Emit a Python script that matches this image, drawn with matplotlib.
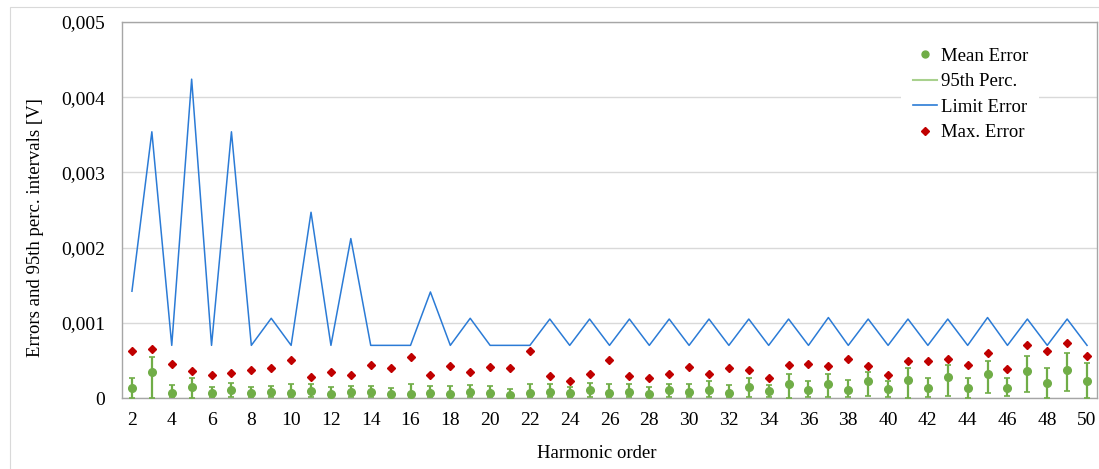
import matplotlib.pyplot as plt
from matplotlib.ticker import FuncFormatter, MultipleLocator
from matplotlib.lines import Line2D
from matplotlib.patches import Rectangle

plt.rcParams['font.family'] = ['Liberation Serif', 'DejaVu Serif']

harmonics = list(range(2, 51))

limit_error = [0.00142, 0.00354, 0.0007, 0.00424, 0.0007, 0.00354, 0.0007, 0.00106,
               0.0007, 0.00247, 0.0007, 0.00212, 0.0007, 0.0007, 0.0007, 0.00141,
               0.0007, 0.00106, 0.0007, 0.0007, 0.0007, 0.00105, 0.0007, 0.00105,
               0.0007, 0.00105, 0.0007, 0.00105, 0.0007, 0.00105, 0.0007, 0.00105,
               0.0007, 0.00105, 0.0007, 0.00107, 0.0007, 0.00105, 0.0007, 0.00105,
               0.0007, 0.00105, 0.0007, 0.00107, 0.0007, 0.00105, 0.0007, 0.00105,
               0.0007]

max_error = [0.00062, 0.00065, 0.00045, 0.00036, 0.00031, 0.00033, 0.00037, 0.00040,
             0.00051, 0.00028, 0.00034, 0.00031, 0.00044, 0.00040, 0.00055, 0.00030,
             0.00042, 0.00035, 0.00041, 0.00040, 0.00062, 0.00029, 0.00023, 0.00032,
             0.00050, 0.00029, 0.00026, 0.00032, 0.00041, 0.00032, 0.00040, 0.00037,
             0.00027, 0.00044, 0.00045, 0.00042, 0.00052, 0.00043, 0.00030, 0.00049,
             0.00049, 0.00052, 0.00044, 0.00060, 0.00039, 0.00070, 0.00063, 0.00073,
             0.00056]

mean_error = [0.00013, 0.00035, 0.00007, 0.00014, 0.00006, 0.00010, 0.00007, 0.00008,
              0.00006, 0.00009, 0.00005, 0.00008, 0.00008, 0.00005, 0.00005, 0.00007,
              0.00005, 0.00008, 0.00006, 0.00004, 0.00007, 0.00008, 0.00006, 0.00010,
              0.00006, 0.00008, 0.00005, 0.00010, 0.00008, 0.00011, 0.00006, 0.00014,
              0.00009, 0.00018, 0.00011, 0.00019, 0.00010, 0.00022, 0.00012, 0.00024,
              0.00013, 0.00028, 0.00013, 0.00032, 0.00013, 0.00036, 0.00020, 0.00037,
              0.00022]

# 95th percentile interval bounds
upper_95 = [0.00026, 0.00054, 0.00017, 0.00027, 0.00014, 0.00020, 0.00015, 0.00016,
            0.00018, 0.00018, 0.00014, 0.00016, 0.00016, 0.00013, 0.00018, 0.00016,
            0.00016, 0.00017, 0.00016, 0.00012, 0.00019, 0.00019, 0.00014, 0.00020,
            0.00018, 0.00019, 0.00014, 0.00019, 0.00018, 0.00022, 0.00017, 0.00026,
            0.00017, 0.00032, 0.00023, 0.00032, 0.00024, 0.00034, 0.00023, 0.00040,
            0.00026, 0.00044, 0.00026, 0.00049, 0.00026, 0.00056, 0.00040, 0.00060,
            0.00046]
lower_95 = [0.0, 0.0, 0.00001, 0.0, 0.00001, 0.00001, 0.00001, 0.00001,
            0.00001, 0.00001, 0.00001, 0.00001, 0.00001, 0.00001, 0.00001, 0.00001,
            0.00001, 0.00001, 0.00001, 0.00001, 0.00001, 0.00001, 0.00001, 0.00001,
            0.00001, 0.00001, 0.00001, 0.00001, 0.00001, 0.00001, 0.00001, 0.00001,
            0.00001, 0.0, 0.00001, 0.00001, 0.00001, 0.00002, 0.00001, 0.0,
            0.00001, 0.00003, 0.0, 0.00007, 0.00002, 0.00008, 0.0, 0.00009,
            0.0]

green = '#70AD47'
blue = '#2B7BD6'
red = '#C00000'
spine_gray = '#A6A6A6'
fs = 13.5

fig = plt.figure(figsize=(10.99, 4.69), dpi=100)
ax = fig.add_axes([122 / 1099, 71 / 469, 975 / 1099, 376 / 469])

# outer chart frame
fig.patches.append(Rectangle((10 / 1099, -0.05), 1.2, (462 / 469) + 0.05,
                             transform=fig.transFigure, fill=False,
                             edgecolor='#D9D9D9', lw=0.8, zorder=0))

ax.plot(harmonics, limit_error, color=blue, lw=1.1, zorder=3)

yerr = [[m - lo for m, lo in zip(mean_error, lower_95)],
        [up - m for m, up in zip(mean_error, upper_95)]]
ax.errorbar(harmonics, mean_error, yerr=yerr, fmt='o', color=green, ms=5.5,
            ecolor=green, elinewidth=1.6, capsize=2.5, capthick=1.2, zorder=4)

ax.plot(harmonics, max_error, 'D', color=red, ms=4.2, zorder=5)

ax.set_xlim(1.5, 50.5)
ax.set_ylim(0, 0.005)
ax.set_xticks(range(2, 51, 2))
ax.yaxis.set_major_locator(MultipleLocator(0.001))
ax.yaxis.set_major_formatter(FuncFormatter(
    lambda v, _: '0' if abs(v) < 1e-12 else f'{v:.3f}'.replace('.', ',')))
ax.tick_params(axis='both', length=0, labelsize=fs + 0.5, colors='#000000')
ax.tick_params(axis='x', pad=10)
ax.tick_params(axis='y', pad=12)

ax.grid(axis='y', color='#D9D9D9', lw=1.0, zorder=0)
ax.set_axisbelow(True)
for side in ['left', 'bottom', 'top', 'right']:
    ax.spines[side].set_color(spine_gray)
    ax.spines[side].set_linewidth(1.0)

ax.set_xlabel('Harmonic order', fontsize=fs)
ax.set_ylabel('Errors and 95th perc. intervals [V]', fontsize=fs)
ax.xaxis.set_label_coords(0.487, -0.125)
ax.yaxis.set_label_coords(-0.080, 0.452)

handles = [
    Line2D([], [], marker='o', color=green, ls='none', ms=5),
    Line2D([], [], color='#A9D18E', lw=1.5),
    Line2D([], [], color=blue, lw=1.2),
    Line2D([], [], marker='D', color=red, ls='none', ms=4),
]
labels = ['Mean Error', '95th Perc.', 'Limit Error', 'Max. Error']
leg = ax.legend(handles, labels, loc='upper left',
                bbox_to_anchor=(892 / 1099, 442 / 469), bbox_transform=fig.transFigure,
                frameon=True, facecolor='white', edgecolor='none', framealpha=1,
                fontsize=fs, handlelength=1.3, handletextpad=0.2,
                labelspacing=0.45, borderpad=0.6, fancybox=False)

fig.savefig('out.png', dpi=100)
